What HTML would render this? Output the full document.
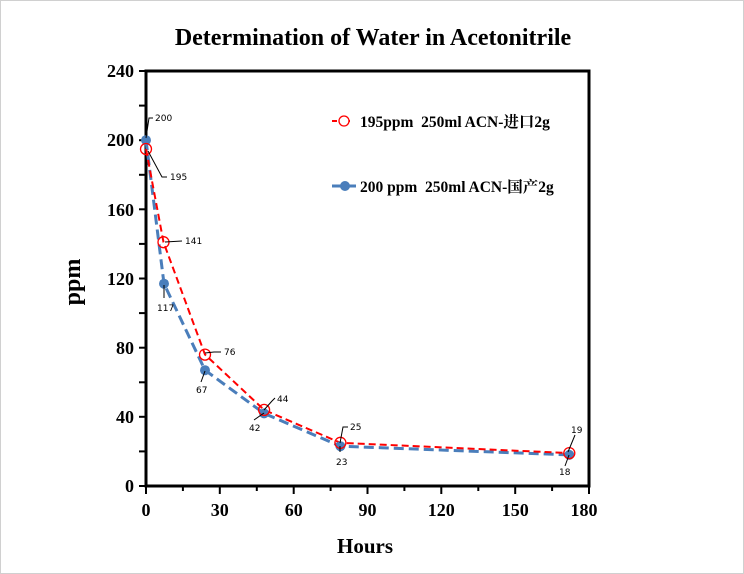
<!DOCTYPE html>
<html><head><style>body{margin:0;background:#fff}svg{display:block}</style></head><body>
<svg width="744" height="574" xmlns="http://www.w3.org/2000/svg" font-family="Liberation Serif, Noto Serif CJK SC, serif">
<rect x="0.5" y="0.5" width="743" height="573" fill="#fff" stroke="#d0d0d0"/>
<text x="373" y="45" text-anchor="middle" font-size="24" font-weight="bold">Determination of Water in Acetonitrile</text>
<g stroke="#000" stroke-width="3" fill="none">
<rect x="146" y="71" width="443" height="415"/>
</g>
<g stroke="#000" stroke-width="2">
<line x1="146" y1="486" x2="146" y2="494"/><line x1="219.8" y1="486" x2="219.8" y2="494"/><line x1="293.7" y1="486" x2="293.7" y2="494"/><line x1="367.5" y1="486" x2="367.5" y2="494"/><line x1="441.3" y1="486" x2="441.3" y2="494"/><line x1="515.2" y1="486" x2="515.2" y2="494"/><line x1="589" y1="486" x2="589" y2="494"/>
<line x1="182.9" y1="486" x2="182.9" y2="491"/><line x1="256.8" y1="486" x2="256.8" y2="491"/><line x1="330.6" y1="486" x2="330.6" y2="491"/><line x1="404.4" y1="486" x2="404.4" y2="491"/><line x1="478.3" y1="486" x2="478.3" y2="491"/><line x1="552.1" y1="486" x2="552.1" y2="491"/>
<line x1="139" y1="486" x2="146" y2="486"/><line x1="139" y1="451.4" x2="146" y2="451.4"/><line x1="139" y1="416.8" x2="146" y2="416.8"/><line x1="139" y1="382.3" x2="146" y2="382.3"/><line x1="139" y1="347.7" x2="146" y2="347.7"/><line x1="139" y1="313.1" x2="146" y2="313.1"/><line x1="139" y1="278.5" x2="146" y2="278.5"/><line x1="139" y1="243.9" x2="146" y2="243.9"/><line x1="139" y1="209.3" x2="146" y2="209.3"/><line x1="139" y1="174.8" x2="146" y2="174.8"/><line x1="139" y1="140.2" x2="146" y2="140.2"/><line x1="139" y1="105.6" x2="146" y2="105.6"/><line x1="139" y1="71" x2="146" y2="71"/>
</g>
<g font-size="18" font-weight="bold" text-anchor="end">
<text x="134" y="492">0</text><text x="134" y="423">40</text><text x="134" y="354">80</text><text x="134" y="285">120</text><text x="134" y="216">160</text><text x="134" y="146">200</text><text x="134" y="77">240</text>
</g>
<g font-size="18" font-weight="bold" text-anchor="middle">
<text x="146" y="516">0</text><text x="219.8" y="516">30</text><text x="293.7" y="516">60</text><text x="367.5" y="516">90</text><text x="441.3" y="516">120</text><text x="515.2" y="516">150</text><text x="584" y="516">180</text>
</g>
<text x="365" y="553" text-anchor="middle" font-size="21" font-weight="bold">Hours</text>
<text transform="translate(80,282) rotate(-90)" text-anchor="middle" font-size="24" font-weight="bold">ppm</text>
<polyline fill="none" stroke="#4a7ebb" stroke-width="3" stroke-dasharray="10,5" points="146,140.2 164,283.7 205,370.2 264.1,413.4 340.4,446.2 569.3,454.9"/>
<polyline fill="none" stroke="#ff0000" stroke-width="2" stroke-dasharray="7,4" points="146,149 163.5,242.2 205,354.6 264.1,409.9 340.4,442.8 569.3,453.1"/>
<g fill="#4a7ebb"><circle cx="146" cy="140.2" r="5"/><circle cx="164" cy="283.7" r="5"/><circle cx="205" cy="370.2" r="5"/><circle cx="264.1" cy="413.4" r="5"/><circle cx="340.4" cy="446.2" r="5"/><circle cx="569.3" cy="454.9" r="5"/></g>
<g fill="none" stroke="#ff0000" stroke-width="1.3"><circle cx="146" cy="149" r="5.5"/><circle cx="163.5" cy="242.2" r="5.5"/><circle cx="205" cy="354.6" r="5.5"/><circle cx="264.1" cy="409.9" r="5.5"/><circle cx="340.4" cy="442.8" r="5.5"/><circle cx="569.3" cy="453.1" r="5.5"/></g>
<g stroke="#000" stroke-width="1" fill="none">
<polyline points="146,138 149,118 153,118"/><polyline points="148,151 162,177 167,177"/>
<polyline points="165,242 182,241"/><polyline points="205,353 214,352 221,352"/>
<polyline points="264,410 272,401 275,398"/><polyline points="340,443 343,427 348,427"/>
<polyline points="568,452 575,435"/><polyline points="569,455 565,466"/>
<polyline points="264,413 254,420"/><polyline points="164,285 164,298"/><polyline points="205,371 201,382"/><polyline points="340,446 340,452"/>
</g>
<g font-family="DejaVu Sans, sans-serif" font-size="9" fill="#000">
<text x="155" y="121">200</text><text x="170" y="180">195</text><text x="185" y="244">141</text><text x="157" y="311">117</text>
<text x="224" y="355">76</text><text x="196" y="393">67</text><text x="277" y="402">44</text><text x="249" y="431">42</text>
<text x="350" y="430">25</text><text x="336" y="465">23</text><text x="571" y="433">19</text><text x="559" y="475">18</text>
</g>
<line x1="332" y1="121" x2="350" y2="121" stroke="#ff0000" stroke-width="2" stroke-dasharray="5,3"/>
<circle cx="344" cy="121" r="5" fill="#fff" stroke="#ff0000" stroke-width="1.3"/>
<line x1="332" y1="186" x2="356" y2="186" stroke="#4a7ebb" stroke-width="3"/>
<circle cx="345" cy="186" r="5" fill="#4a7ebb"/>
<g font-size="15.5" font-weight="bold">
<text x="360" y="127">195ppm&#160;&#160;250ml ACN-进口2g</text>
<text x="360" y="192">200 ppm&#160;&#160;250ml ACN-国产2g</text>
</g>
</svg>
</body></html>
